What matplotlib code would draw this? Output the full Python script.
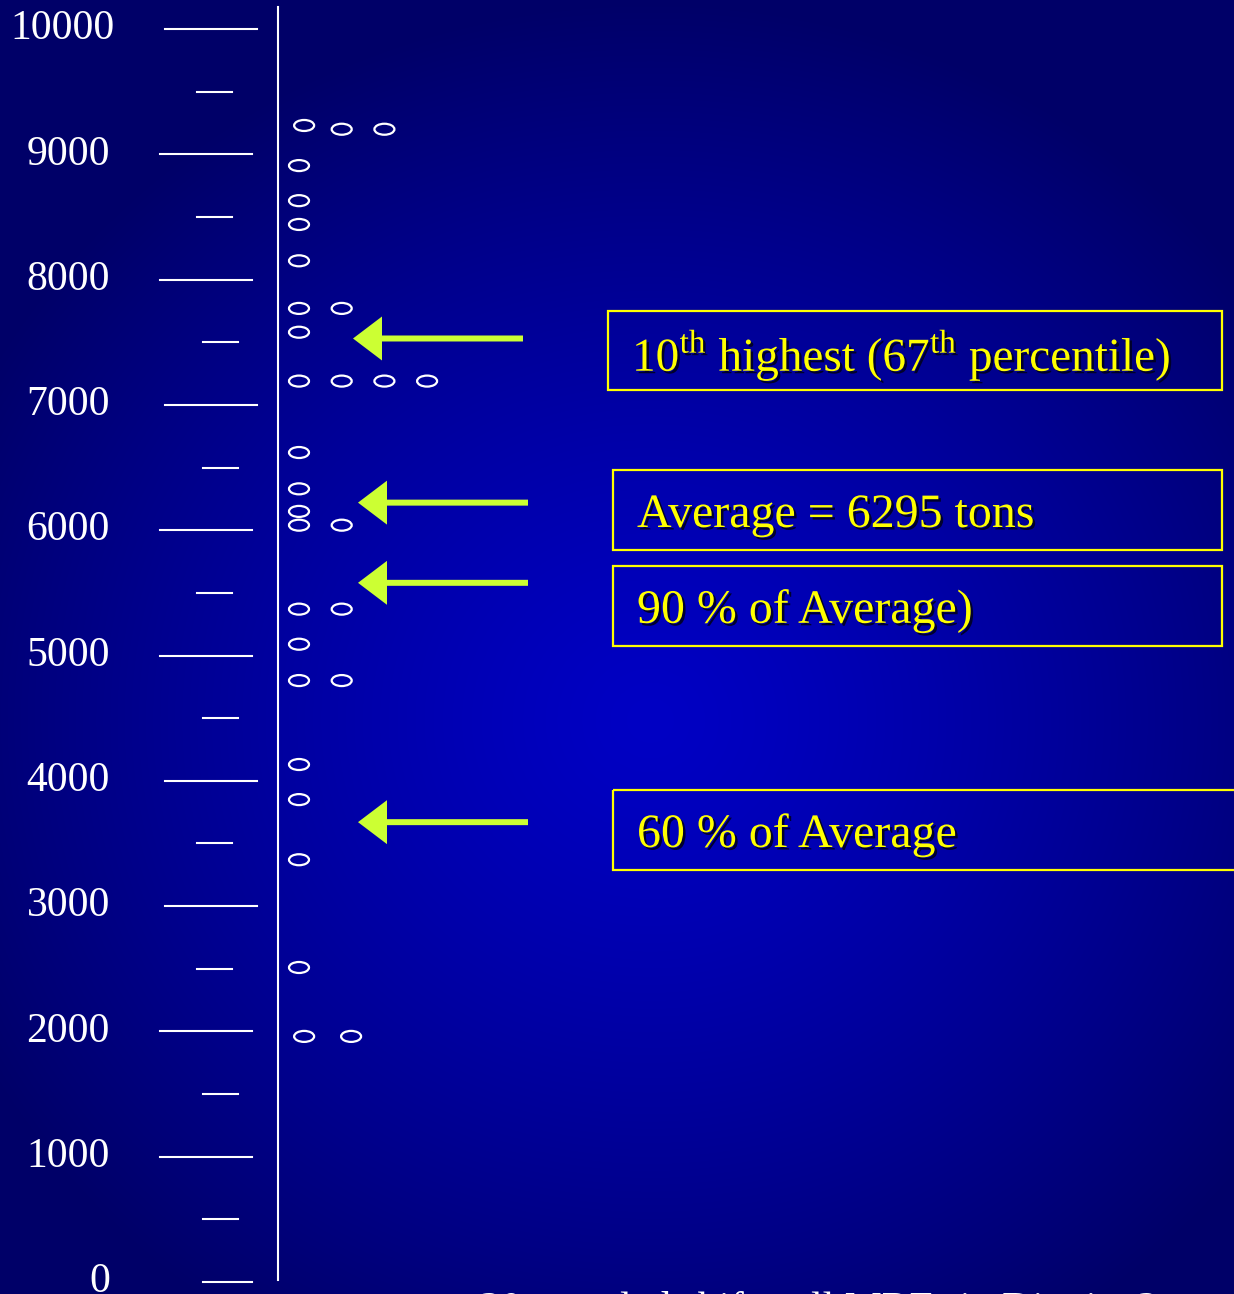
import numpy as np
import matplotlib
matplotlib.use("Agg")
import matplotlib.pyplot as plt
import matplotlib.patheffects as pe
from matplotlib.patches import Ellipse, Rectangle

# --- data -------------------------------------------------------------
# 30 shift samples (tons), value and column of the stacked "dot" plot
dot_values = [9230, 9200, 9200,
              8910, 8630, 8440, 8150,
              7770, 7770, 7580,
              7190, 7190, 7190, 7190,
              6620, 6330, 6150, 6040, 6040,
              5370, 5370, 5090, 4800, 4800,
              4130, 3850, 3370, 2510,
              1960, 1960]
dot_cols = [0.12, 1, 2,
            0, 0, 0, 0,
            0, 1, 0,
            0, 1, 2, 3,
            0, 0, 0, 0, 1,
            0, 1, 0, 0, 1,
            0, 0, 0, 0,
            0.12, 1.22]

major_ticks = [1000, 2000, 3000, 4000, 5000, 6000, 7000, 8000, 9000, 10000]
minor_ticks = [500, 1500, 2500, 3500, 4500, 5500, 6500, 7500, 8500, 9500]
tick_labels = ['0', '1000', '2000', '3000', '4000', '5000',
               '6000', '7000', '8000', '9000', '10000']

arrow_values = [7530, 6220, 5580, 3670]
box_texts = ['10$^{\\mathrm{th}}$ highest (67$^{\\mathrm{th}}$ percentile)',
             'Average = 6295 tons',
             '90 % of Average)',
             '60 % of Average']
footer = '30 sampled shifts, all MRFs in District 3'

# --- figure setup -----------------------------------------------------
W, H = 1234, 1294
plt.rcParams['font.family'] = ['Liberation Serif', 'DejaVu Serif']
plt.rcParams['mathtext.fontset'] = 'custom'
plt.rcParams['mathtext.rm'] = 'Liberation Serif'

fig = plt.figure(figsize=(W / 100, H / 100), dpi=100)

# radial blue background
bg = fig.add_axes([0, 0, 1, 1])
yy, xx = np.mgrid[0:H, 0:W]
r = np.sqrt(((xx - 650) / 760.0) ** 2 + ((yy - 720) / 720.0) ** 2)
blue = 196 - 92 * np.clip(r, 0, 1) ** 1.3
img = np.zeros((H, W, 3))
img[..., 2] = blue / 255.0
bg.imshow(img, extent=(0, W, H, 0), aspect='auto')
bg.set_xlim(0, W)
bg.set_ylim(H, 0)
bg.axis('off')

# main axes: x in pixels, y in tons
PX = 0.1253            # pixels per ton
Y0 = 1282              # pixel row of 0 tons
ax = fig.add_axes([0, 0, 1, 1])
ax.patch.set_alpha(0)
ax.set_xlim(0, W)
ax.set_ylim((Y0 - H) / PX, Y0 / PX)
ax.axis('off')

# vertical axis line
ax.plot([278, 278], [16, 10176], color='white', lw=1.5)

# hand drawn tick marks
for t in major_ticks:
    shift = 5 if t in (10000, 7000, 4000, 3000) else 0
    ax.plot([160 + shift, 252 + shift], [t, t], color='white', lw=1.5)
for t in minor_ticks:
    shift = 6 if t in (500, 1500, 4500, 6500, 7500) else 0
    ax.plot([197 + shift, 232 + shift], [t, t], color='white', lw=1.5)
ax.plot([203, 252], [0, 0], color='white', lw=1.5)

for k, lab in enumerate(tick_labels):
    x = 115 if lab == '10000' else 110
    ax.text(x, k * 1000, lab, color='white', fontsize=30,
            ha='right', va='center')

# dots
for v, c in zip(dot_values, dot_cols):
    ax.add_patch(Ellipse((299 + 42.7 * c, v), 20, 11 / PX,
                         facecolor='none', edgecolor='white', lw=1.6))

# arrows
tips = [353, 358, 358, 358]
for v, tip in zip(arrow_values, tips):
    end = tip + 170
    ax.arrow(end, v, tip - end, 0, width=6 / PX, head_width=44 / PX,
             head_length=29, length_includes_head=True,
             color='#ccff33', lw=0)

# text boxes (pixel layout)
lay = fig.add_axes([0, 0, 1, 1])
lay.patch.set_alpha(0)
lay.set_xlim(0, W)
lay.set_ylim(H, 0)
lay.axis('off')

boxes = [(608, 311, 614, 79), (613, 470, 609, 80),
         (613, 566, 609, 80), (613, 790, 640, 80)]
sizes = [34, 34.5, 34.5, 34.5]
shadow = [pe.SimplePatchShadow(offset=(1.8, -1.8), shadow_rgbFace='#000020',
                               alpha=0.9), pe.Normal()]
for (x, y, w, h), txt, fs in zip(boxes, box_texts, sizes):
    lay.add_patch(Rectangle((x, y), w, h, facecolor='none',
                            edgecolor='#ffff00', lw=1.6))
    lay.text(x + 24, y + h / 2 + 5, txt, color='#ffff00', fontsize=fs,
             ha='left', va='center', path_effects=shadow)

# footer line, cut off by the bottom edge as in the slide
lay.text(480, 1291.5, footer, color='white', fontsize=30,
         ha='left', va='top')

fig.savefig('out.png', dpi=100)
